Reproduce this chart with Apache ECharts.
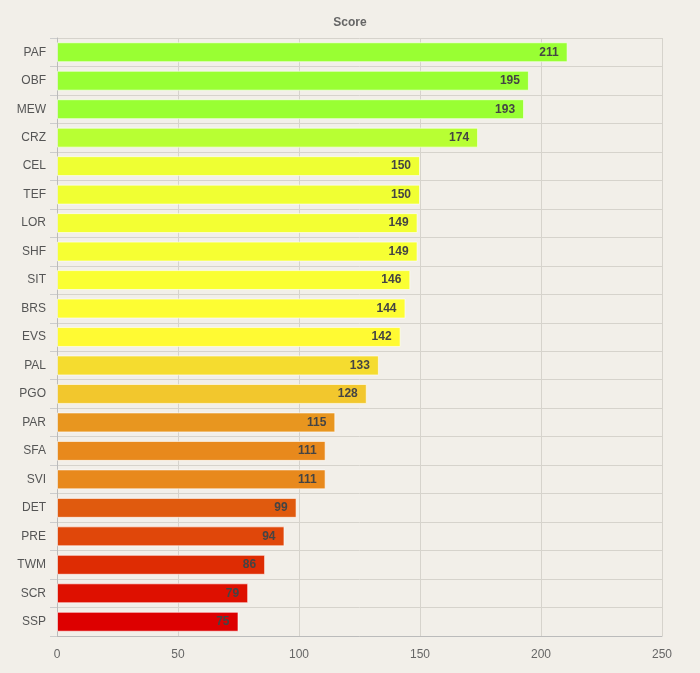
<!DOCTYPE html>
<html>
<head>
<meta charset="utf-8">
<script src="https://cdn.jsdelivr.net/npm/echarts@6/dist/echarts.min.js"></script>
<style>
  html, body { margin: 0; padding: 0; background: #f2efe9; }
  #chart { width: 700px; height: 673px; }
</style>
</head>
<body>
<div id="chart"></div>
<script>
// 数据
var categories = ['PAF', 'OBF', 'MEW', 'CRZ', 'CEL', 'TEF', 'LOR', 'SHF', 'SIT', 'BRS', 'EVS',
                  'PAL', 'PGO', 'PAR', 'SFA', 'SVI', 'DET', 'PRE', 'TWM', 'SCR', 'SSP'];
var scores = [211, 195, 193, 174, 150, 150, 149, 149, 146, 144, 142,
              133, 128, 115, 111, 111, 99, 94, 86, 79, 75];
var barColors = ['#99ff33', '#99ff33', '#99ff33', '#b8ff33', '#eeff33', '#f0ff33', '#f3ff33', '#f6ff33',
                 '#faff33', '#fdfd33', '#fffa33', '#f5dc2f', '#f2c72d', '#e8961f', '#e8891c', '#e8891c',
                 '#e05a0e', '#e0470a', '#de2c03', '#de1000', '#dd0000'];
var xTicks = [0, 50, 100, 150, 200, 250];

var myChart = echarts.init(document.getElementById('chart'));

var barData = [];
for (var i = 0; i < scores.length; i++) {
    barData.push({ value: scores[i], itemStyle: { color: barColors[i] } });
}

var option = {
    backgroundColor: '#f2efe9',
    animation: false,
    title: {
        text: 'Score',
        left: 'center',
        top: 12,
        textStyle: { fontSize: 12, fontWeight: 'bold', color: '#666', fontFamily: 'Arial' }
    },
    grid: { left: 57, right: 38, top: 38, bottom: 37 },
    xAxis: {
        type: 'value',
        min: xTicks[0],
        max: xTicks[xTicks.length - 1],
        interval: 50,
        axisLine: { show: true, lineStyle: { color: '#bbb' } },
        axisTick: { show: false },
        axisLabel: { color: '#666', fontSize: 12, fontFamily: 'Arial', margin: 13 },
        splitLine: { show: true, lineStyle: { color: '#d6d3cc' } }
    },
    yAxis: {
        type: 'category',
        inverse: true,
        data: categories,
        axisLine: { show: true, lineStyle: { color: '#bbb' } },
        axisTick: { show: true, length: 7, lineStyle: { color: '#ccc' } },
        axisLabel: { color: '#555', fontSize: 12, fontFamily: 'Arial', margin: 11 },
        splitLine: { show: true, lineStyle: { color: '#d6d3cc' } }
    },
    series: [{
        type: 'bar',
        data: barData,
        barCategoryGap: '30%',
        itemStyle: { borderColor: 'rgba(255,255,255,0.6)', borderWidth: 1 },
        label: {
            show: true,
            position: 'insideRight',
            distance: 9,
            color: '#444',
            fontWeight: 'bold',
            fontSize: 12,
            fontFamily: 'Arial'
        }
    }]
};

myChart.setOption(option);
</script>
</body>
</html>
